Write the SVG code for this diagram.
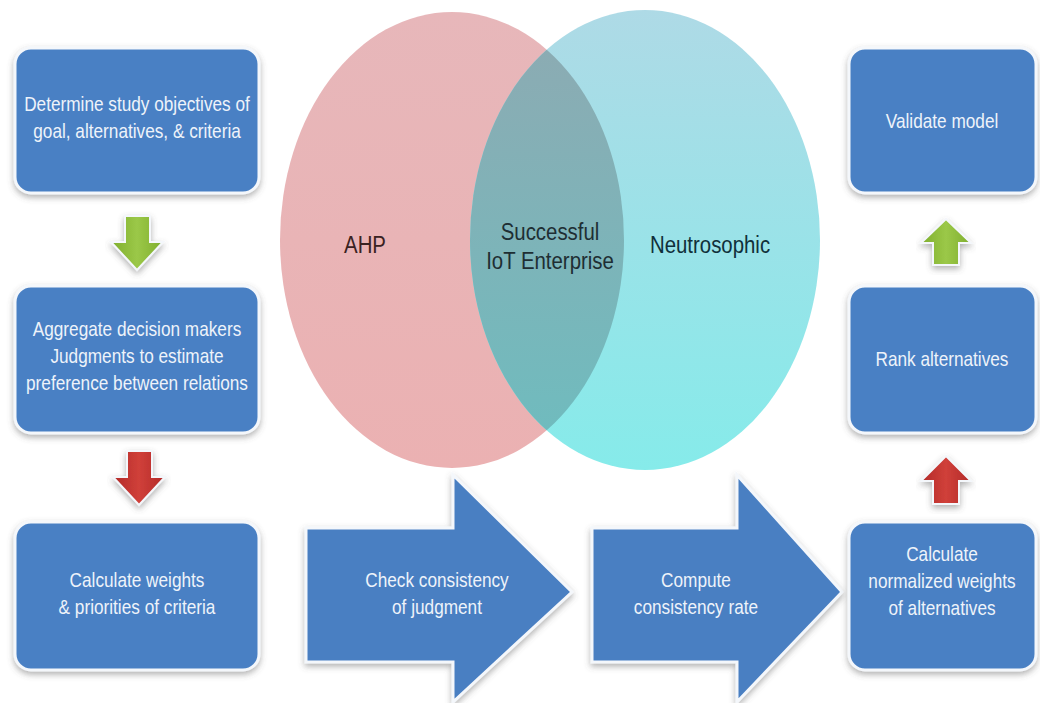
<svg xmlns="http://www.w3.org/2000/svg" width="1040" height="703" viewBox="0 0 1040 703">
<defs>
  <filter id="sh" x="-10%" y="-10%" width="120%" height="130%">
    <feDropShadow dx="0" dy="3" stdDeviation="3" flood-color="#555" flood-opacity="0.45"/>
  </filter>
  <linearGradient id="gPink" x1="0" y1="0" x2="0" y2="1">
    <stop offset="0" stop-color="#E7B7BA"/>
    <stop offset="1" stop-color="#EBB1B2"/>
  </linearGradient>
  <linearGradient id="gCyan" x1="0" y1="0" x2="0" y2="1">
    <stop offset="0" stop-color="#AEDAE6"/>
    <stop offset="1" stop-color="#86EBEA"/>
  </linearGradient>
  <linearGradient id="gOver" x1="0" y1="0" x2="0" y2="1">
    <stop offset="0" stop-color="#8EAAB2"/>
    <stop offset="1" stop-color="#6DBDBF"/>
  </linearGradient>
  <linearGradient id="gGreen" x1="0" y1="0" x2="1" y2="0">
    <stop offset="0" stop-color="#7FAE2E"/>
    <stop offset="0.5" stop-color="#9BC848"/>
    <stop offset="1" stop-color="#7FAE2E"/>
  </linearGradient>
  <linearGradient id="gRed" x1="0" y1="0" x2="1" y2="0">
    <stop offset="0" stop-color="#B22A28"/>
    <stop offset="0.5" stop-color="#D0403A"/>
    <stop offset="1" stop-color="#B22A28"/>
  </linearGradient>
  <clipPath id="clipPink">
    <ellipse cx="452" cy="240" rx="172" ry="228"/>
  </clipPath>
</defs>
<style>
  .box { fill: #4A80C4; stroke: #F4F7FB; stroke-width: 3; filter: url(#sh); }
  .big { fill: #4A7FC2; stroke: #F4F7FB; stroke-width: 3; filter: url(#sh); }
  .bt { font-family: "Liberation Sans", Arial, sans-serif; font-size: 21px; fill: #EEF3FA; text-anchor: middle; }
  .vt { font-family: "Liberation Sans", Arial, sans-serif; font-size: 24px; text-anchor: middle; }
  .ga { fill: url(#gGreen); stroke: #F4F7FB; stroke-width: 2; filter: url(#sh); }
  .ra { fill: url(#gRed); stroke: #F4F7FB; stroke-width: 2; filter: url(#sh); }
</style>
<rect width="1040" height="703" fill="#FFFFFF"/>

<g id="venn">
  <ellipse id="ahp" cx="452" cy="240" rx="172" ry="228" fill="url(#gPink)"/>
  <ellipse id="neutro" cx="645" cy="240" rx="175" ry="230" fill="url(#gCyan)"/>
  <ellipse id="overlap" cx="645" cy="240" rx="175" ry="230" fill="url(#gOver)" clip-path="url(#clipPink)"/>
  <text class="vt" transform="translate(365,253) scale(0.85,1)" fill="#3A2222">AHP</text>
  <text class="vt" transform="translate(550,240) scale(0.85,1)" fill="#1E2E33">Successful</text>
  <text class="vt" transform="translate(550,269) scale(0.85,1)" fill="#1E2E33">IoT Enterprise</text>
  <text class="vt" transform="translate(710,253) scale(0.85,1)" fill="#10303A">Neutrosophic</text>
</g>

<g id="connectors">
  <path id="arrow-green-down" class="ga" d="M125,216 H150 V242 H163 L137,270 L111,242 H125 Z"/>
  <path id="arrow-red-down" class="ra" d="M127,451 H152 V477 H165 L139,505 L113,477 H127 Z"/>
  <path id="arrow-green-up" class="ga" d="M933,265 H959 V243 H971 L946,219 L921,243 H933 Z"/>
  <path id="arrow-red-up" class="ra" d="M933,504 H959 V481 H971 L946,456 L921,481 H933 Z"/>
</g>

<g id="n1">
  <rect class="box" x="15" y="48" width="244" height="145" rx="16"/>
  <text class="bt" transform="translate(137,111) scale(0.82,1)">Determine study objectives of</text>
  <text class="bt" transform="translate(137,138) scale(0.82,1)">goal, alternatives, &amp; criteria</text>
</g>
<g id="n2">
  <rect class="box" x="15" y="286" width="244" height="147" rx="16"/>
  <text class="bt" transform="translate(137,336) scale(0.82,1)">Aggregate decision makers</text>
  <text class="bt" transform="translate(137,363) scale(0.82,1)">Judgments to estimate</text>
  <text class="bt" transform="translate(137,390) scale(0.82,1)">preference between relations</text>
</g>
<g id="n3">
  <rect class="box" x="15" y="522" width="244" height="148" rx="16"/>
  <text class="bt" transform="translate(137,587) scale(0.82,1)">Calculate weights</text>
  <text class="bt" transform="translate(137,614) scale(0.82,1)">&amp; priorities of criteria</text>
</g>
<g id="n4">
  <path class="big" d="M306,528 H453 V475 L572,592 L453,702 V662 H306 Z"/>
  <text class="bt" transform="translate(437,587) scale(0.82,1)">Check consistency</text>
  <text class="bt" transform="translate(437,614) scale(0.82,1)">of judgment</text>
</g>
<g id="n5">
  <path class="big" d="M592,528 H737 V475 L842,592 L737,702 V662 H592 Z"/>
  <text class="bt" transform="translate(696,587) scale(0.82,1)">Compute</text>
  <text class="bt" transform="translate(696,614) scale(0.82,1)">consistency rate</text>
</g>
<g id="n6">
  <rect class="box" x="849" y="522" width="187" height="148" rx="16"/>
  <text class="bt" transform="translate(942,561) scale(0.82,1)">Calculate</text>
  <text class="bt" transform="translate(942,588) scale(0.82,1)">normalized weights</text>
  <text class="bt" transform="translate(942,615) scale(0.82,1)">of alternatives</text>
</g>
<g id="n7">
  <rect class="box" x="849" y="286" width="187" height="147" rx="16"/>
  <text class="bt" transform="translate(942,366) scale(0.82,1)">Rank alternatives</text>
</g>
<g id="n8">
  <rect class="box" x="849" y="48" width="187" height="145" rx="16"/>
  <text class="bt" transform="translate(942,128) scale(0.82,1)">Validate model</text>
</g>
</svg>
